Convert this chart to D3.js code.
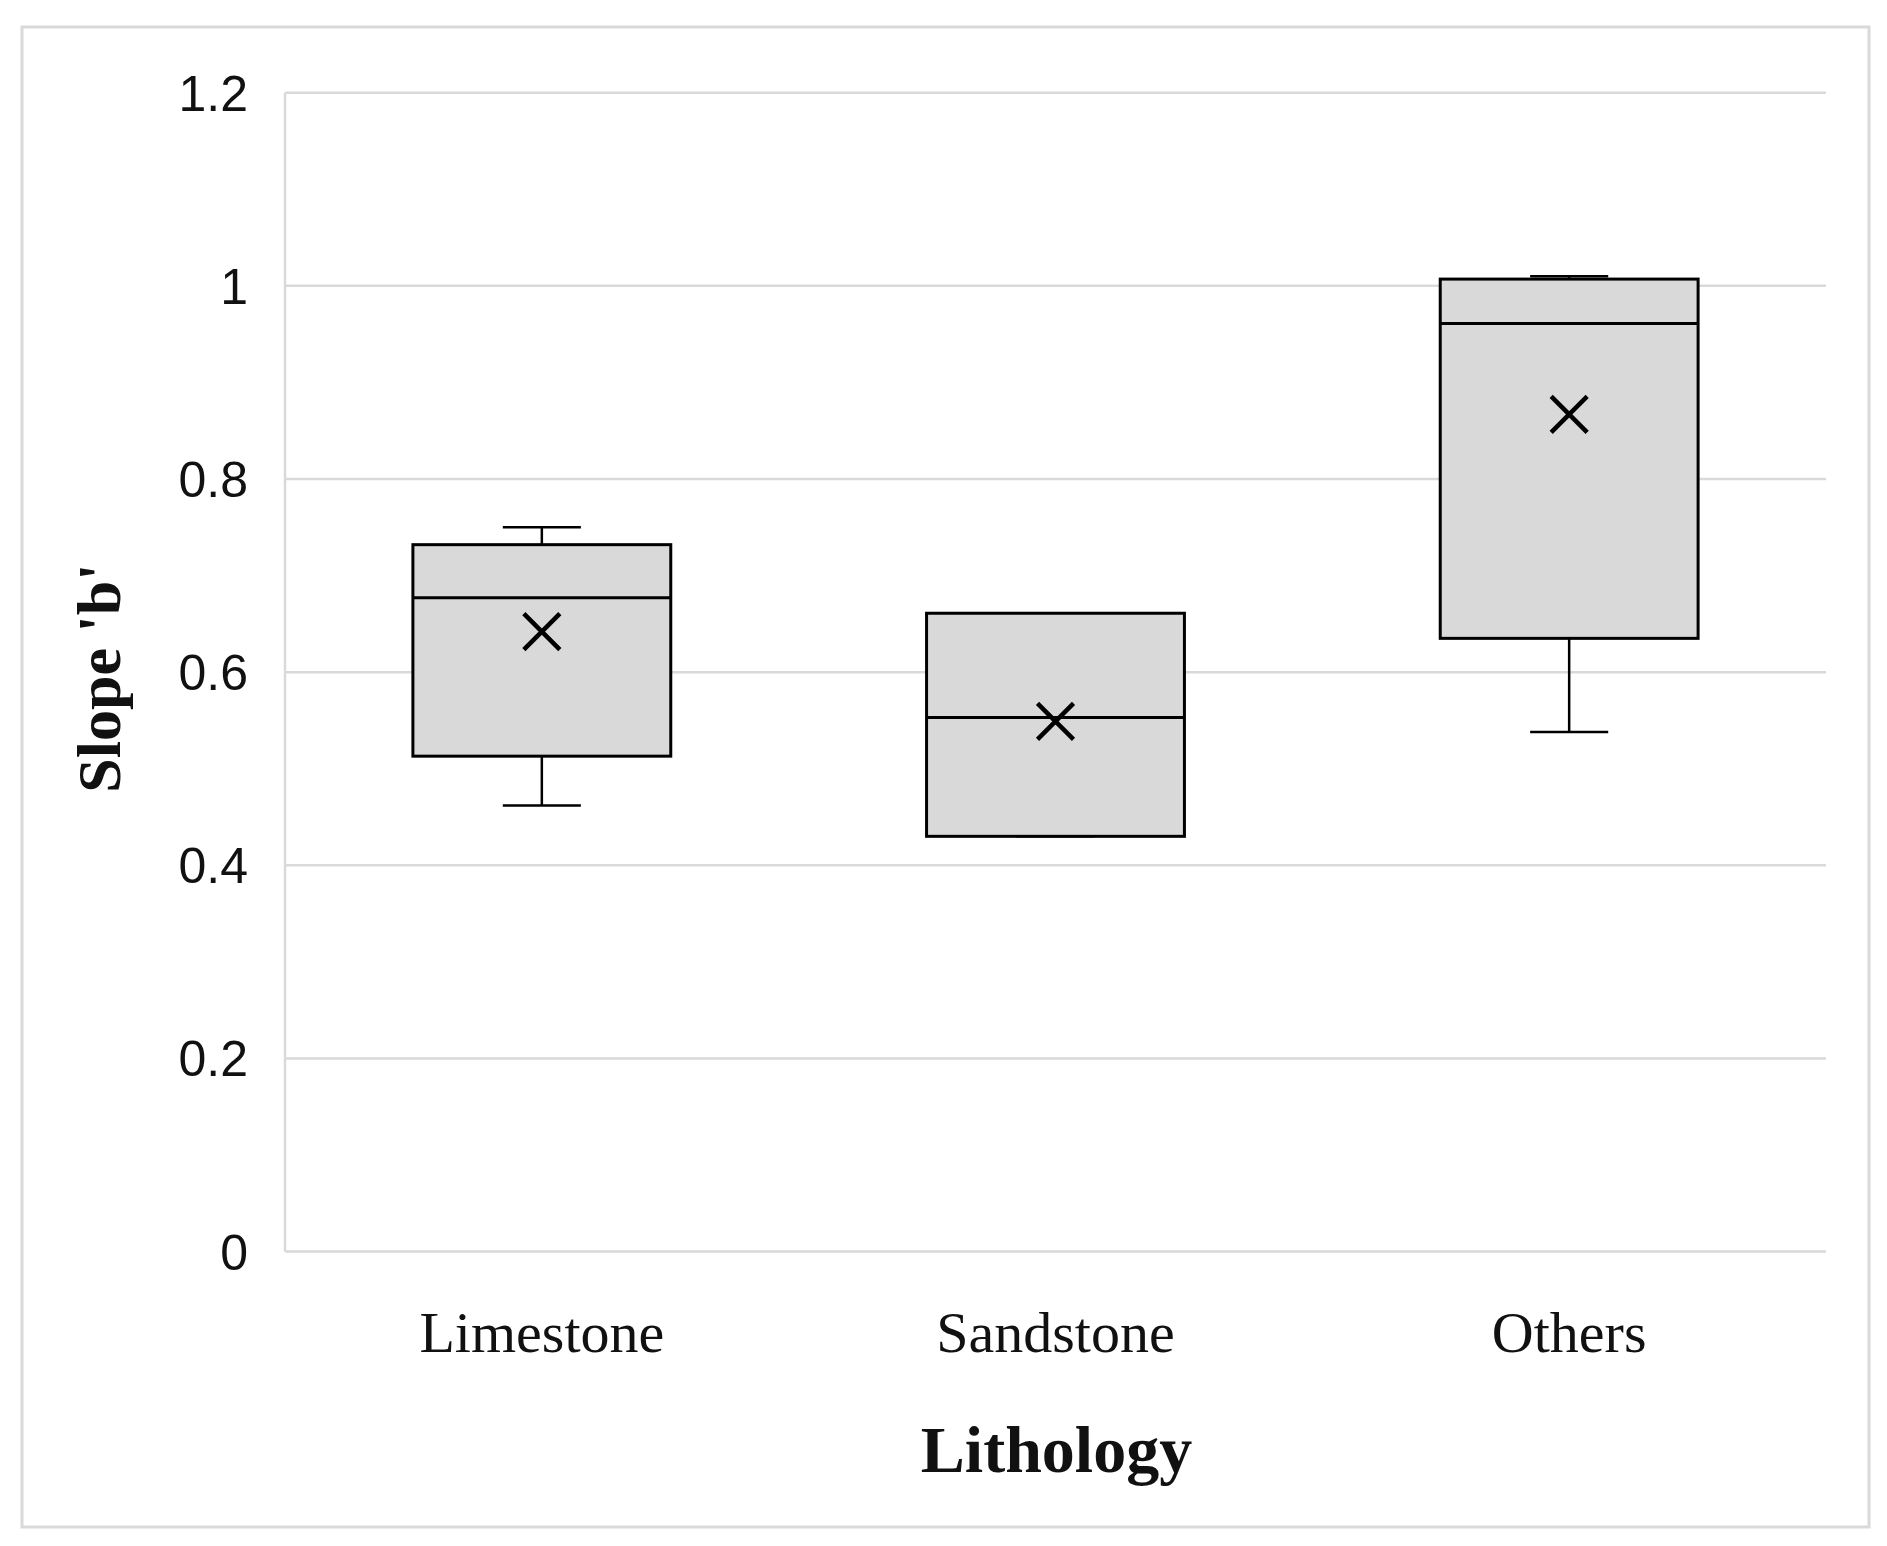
<!DOCTYPE html>
<html>
<head>
<meta charset="utf-8">
<script src="https://cdn.jsdelivr.net/npm/d3@7/dist/d3.min.js"></script>
<style>
  html, body { margin: 0; padding: 0; background: #ffffff; }
  svg { display: block; }
</style>
</head>
<body>
<svg id="chart" width="1887" height="1546"></svg>
<script>
// ---- Data ----
const categories   = ["Limestone", "Sandstone", "Others"];
const minValues    = [0.462, 0.430, 0.538];
const q1Values     = [0.513, 0.430, 0.635];
const medianValues = [0.677, 0.553, 0.961];
const q3Values     = [0.732, 0.661, 1.007];
const maxValues    = [0.750, 0.661, 1.010];
const meanValues   = [0.642, 0.549, 0.867];
const yTickValues  = [0, 0.2, 0.4, 0.6, 0.8, 1.0, 1.2];
const yTickLabels  = ["0", "0.2", "0.4", "0.6", "0.8", "1", "1.2"];
const xAxisTitle   = "Lithology";
const yAxisTitle   = "Slope 'b'";

// ---- Layout ----
const W = 1887, H = 1546;
const plot = { left: 285, right: 1826, top: 92.7, bottom: 1251.6 };
const svg = d3.select("#chart");

svg.append("rect").attr("width", W).attr("height", H).attr("fill", "#ffffff");

// outer frame
svg.append("rect")
  .attr("x", 22).attr("y", 27).attr("width", 1847).attr("height", 1500)
  .attr("fill", "none").attr("stroke", "#d9d9d9").attr("stroke-width", 3);

const x = d3.scaleBand().domain(categories).range([plot.left, plot.right]).paddingInner(0).paddingOuter(0);
const y = d3.scaleLinear().domain([0, 1.2]).range([plot.bottom, plot.top]);

// gridlines
svg.append("g").selectAll("line").data(yTickValues).join("line")
  .attr("x1", plot.left).attr("x2", plot.right)
  .attr("y1", d => y(d)).attr("y2", d => y(d))
  .attr("stroke", "#d9d9d9").attr("stroke-width", 2.5);

// y axis line
svg.append("line")
  .attr("x1", plot.left).attr("x2", plot.left)
  .attr("y1", y(1.2)).attr("y2", y(0))
  .attr("stroke", "#d9d9d9").attr("stroke-width", 2.5);

// y tick labels via axis
const yAxis = d3.axisLeft(y).tickValues(yTickValues)
  .tickFormat((d, i) => yTickLabels[i]).tickSize(0).tickPadding(0);
const yg = svg.append("g").attr("transform", `translate(248,0)`).call(yAxis);
yg.select(".domain").remove();
yg.selectAll("text")
  .attr("font-family", "'Liberation Sans', Arial, sans-serif")
  .attr("font-size", 50).attr("fill", "#111").attr("dy", "0.35em");

// x category labels via axis
const xAxis = d3.axisBottom(x).tickSize(0).tickPadding(0);
const xg = svg.append("g").attr("transform", `translate(0,1352)`).call(xAxis);
xg.select(".domain").remove();
xg.selectAll("text")
  .attr("font-family", "'Liberation Serif', 'Times New Roman', serif")
  .attr("font-size", 58).attr("fill", "#111").attr("dy", 0);

// axis titles
svg.append("text")
  .attr("x", x.range()[0] + (x.range()[1] - x.range()[0]) / 2 + 1).attr("y", 1472)
  .attr("text-anchor", "middle")
  .attr("font-family", "'Liberation Serif', 'Times New Roman', serif")
  .attr("font-weight", "bold").attr("font-size", 66).attr("fill", "#111")
  .text(xAxisTitle);

svg.append("text")
  .attr("transform", `translate(120,${(plot.top + plot.bottom) / 2 + 6}) rotate(-90)`)
  .attr("text-anchor", "middle")
  .attr("font-family", "'Liberation Serif', 'Times New Roman', serif")
  .attr("font-weight", "bold").attr("font-size", 62).attr("fill", "#111")
  .text(yAxisTitle);

// boxes
const boxW = x.bandwidth() * 0.502;
const capW = x.bandwidth() * 0.152;
const data = categories.map((c, i) => ({
  c, min: minValues[i], q1: q1Values[i], med: medianValues[i],
  q3: q3Values[i], max: maxValues[i], mean: meanValues[i]
}));

const g = svg.append("g").selectAll("g").data(data).join("g")
  .attr("transform", d => `translate(${x(d.c) + x.bandwidth() / 2},0)`);

// whiskers
g.append("line").attr("x1", 0).attr("x2", 0)
  .attr("y1", d => y(d.q3)).attr("y2", d => y(d.max))
  .attr("stroke", "#000").attr("stroke-width", 2.5);
g.append("line").attr("x1", 0).attr("x2", 0)
  .attr("y1", d => y(d.q1)).attr("y2", d => y(d.min))
  .attr("stroke", "#000").attr("stroke-width", 2.5);
g.append("line").attr("x1", -capW / 2).attr("x2", capW / 2)
  .attr("y1", d => y(d.max)).attr("y2", d => y(d.max))
  .attr("stroke", "#000").attr("stroke-width", 2.5);
g.append("line").attr("x1", -capW / 2).attr("x2", capW / 2)
  .attr("y1", d => y(d.min)).attr("y2", d => y(d.min))
  .attr("stroke", "#000").attr("stroke-width", 2.5);

// box
g.append("rect")
  .attr("x", -boxW / 2).attr("width", boxW)
  .attr("y", d => y(d.q3)).attr("height", d => y(d.q1) - y(d.q3))
  .attr("fill", "#d9d9d9").attr("stroke", "#000").attr("stroke-width", 3);

// median
g.append("line").attr("x1", -boxW / 2).attr("x2", boxW / 2)
  .attr("y1", d => y(d.med)).attr("y2", d => y(d.med))
  .attr("stroke", "#000").attr("stroke-width", 3);

// mean marker (X)
const m = 18;
g.append("path")
  .attr("d", d => `M${-m},${y(d.mean) - m}L${m},${y(d.mean) + m}M${-m},${y(d.mean) + m}L${m},${y(d.mean) - m}`)
  .attr("stroke", "#000").attr("stroke-width", 4.5).attr("fill", "none");
</script>
</body>
</html>
